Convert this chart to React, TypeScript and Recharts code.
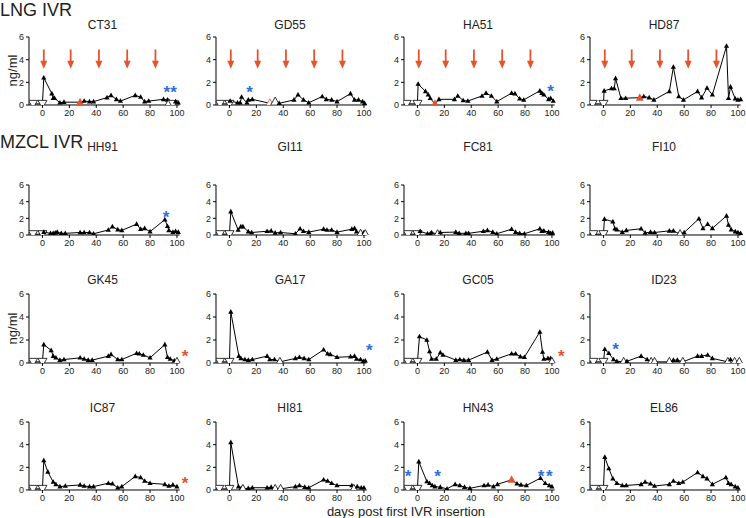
import React from 'react';
import { ComposedChart, Line, XAxis, YAxis, Scatter, ReferenceLine } from 'recharts';

// [day, ng/ml, marker] ; f = filled, o = open (below LOD), d = open pre-insertion, r = red filled, ro = red open
type Pt = [number, number, string];
type Star = [number, number, string];

const X_TICKS = [0, 20, 40, 60, 80, 100];
const Y_TICKS = [0, 2, 4, 6];
const RING_DAYS = [1, 21, 42, 63, 84];

const CT31: Pt[] = [[-7,0.1,'d'],[0,0.1,'d'],[1,2.4,'f'],[7,1.0,'f'],[8,0.6,'f'],[9,0.6,'f'],[13,0.2,'f'],[16,0.25,'f'],[28,0.25,'r'],[31,0.35,'f'],[35,0.3,'f'],[38,0.3,'f'],[48,0.65,'f'],[51,0.85,'f'],[55,0.5,'f'],[58,0.35,'f'],[69,0.85,'f'],[73,0.7,'f'],[76,0.3,'f'],[79,0.35,'f'],[90,0.5,'f'],[93,0.45,'f'],[94,0.15,'o'],[97,0.1,'d'],[99,0.3,'f'],[101,0.2,'f']];
const GD55: Pt[] = [[-7,0.1,'d'],[0,0.1,'d'],[0.5,0.35,'f'],[6,0.2,'f'],[8,0.2,'f'],[9,0.7,'f'],[13,0.2,'f'],[14,0.45,'f'],[17,0.5,'f'],[30,0.15,'ro'],[34,0.3,'o'],[37,0.15,'f'],[48,0.45,'f'],[51,0.9,'f'],[55,0.45,'f'],[59,0.2,'f'],[69,0.75,'f'],[72,0.5,'f'],[76,0.45,'f'],[80,0.3,'f'],[90,1.0,'f'],[93,0.45,'f'],[96,0.45,'f'],[99,0.3,'f'],[100.5,0.15,'f']];
const HA51: Pt[] = [[-8,0.1,'d'],[0,0.1,'d'],[0.5,1.85,'f'],[6,1.2,'f'],[8,0.9,'f'],[9.5,0.6,'f'],[13,0.1,'r'],[16,0.5,'f'],[27.5,0.5,'f'],[30,0.8,'f'],[34,0.4,'f'],[37.5,0.35,'f'],[48,0.8,'f'],[51,1.05,'f'],[55,0.8,'f'],[59,0.3,'f'],[70,1.05,'f'],[72.5,1.0,'f'],[76,0.55,'f'],[79,0.45,'f'],[91,1.25,'f'],[92.5,1.05,'f'],[94,0.9,'f'],[97.5,0.5,'f'],[99,0.6,'f'],[101,0.35,'f']];
const HD87: Pt[] = [[-8,0.1,'d'],[0,0.1,'d'],[0.5,1.25,'f'],[6,1.45,'f'],[8,1.45,'f'],[9,2.35,'f'],[13,0.6,'f'],[16.5,0.6,'f'],[27,0.65,'r'],[30,0.75,'f'],[34,0.65,'f'],[37.5,0.45,'f'],[49,1.2,'f'],[52,3.35,'f'],[56,0.75,'f'],[59.5,0.45,'f'],[70,1.2,'f'],[73,0.65,'f'],[77,1.5,'f'],[81,0.9,'f'],[91.5,5.2,'f'],[93,0.6,'f'],[94.5,1.6,'f'],[98,0.55,'f'],[100,0.45,'f'],[102,0.5,'f']];

const HH91: Pt[] = [[-7,0.1,'d'],[0,0.1,'d'],[1,0.35,'f'],[6,0.2,'f'],[8,0.2,'f'],[9.5,0.25,'f'],[11,0.35,'f'],[14,0.2,'f'],[17,0.2,'f'],[28,0.3,'f'],[31,0.3,'f'],[35,0.3,'f'],[38,0.15,'f'],[49,0.6,'f'],[52,1.0,'f'],[56,0.65,'f'],[59,0.55,'f'],[70,1.3,'f'],[73,0.7,'f'],[76,0.8,'f'],[80,0.4,'f'],[91,1.85,'f'],[93,1.05,'f'],[94,0.55,'f'],[97,0.35,'f'],[99,0.45,'f'],[101,0.35,'f']];
const GI11: Pt[] = [[-7,0.1,'d'],[0,0.1,'d'],[1,2.8,'f'],[6.5,0.6,'f'],[8.5,1.0,'f'],[10,1.0,'f'],[14,0.4,'f'],[16.5,0.3,'f'],[28,0.45,'f'],[31,0.5,'f'],[34,0.25,'f'],[38,0.3,'f'],[49,0.15,'f'],[52.5,0.75,'f'],[55,0.45,'f'],[59,0.35,'f'],[70,0.7,'f'],[72.5,0.6,'f'],[76,0.6,'f'],[80,0.35,'f'],[91,0.7,'f'],[93,0.8,'f'],[94.5,0.4,'f'],[97.5,0.15,'o'],[100,0.3,'f'],[101,0.1,'o']];
const FC81: Pt[] = [[-7,0.1,'d'],[0,0.1,'d'],[2,0.45,'f'],[7.5,0.15,'f'],[9.5,0.15,'f'],[10.5,0.3,'f'],[15,0.1,'o'],[17,0.3,'f'],[28.5,0.35,'f'],[31,0.2,'f'],[36,0.2,'f'],[38,0.2,'f'],[49,0.45,'f'],[52,0.55,'f'],[56,0.35,'f'],[59,0.15,'f'],[70,0.7,'f'],[73,0.35,'f'],[76,0.2,'f'],[79.5,0.15,'f'],[91,0.75,'f'],[92.5,0.45,'f'],[94,0.5,'f'],[97.5,0.35,'f'],[99,0.2,'f'],[100.5,0.25,'f']];
const FI10: Pt[] = [[-7.5,0.1,'d'],[0,0.1,'d'],[0.75,1.9,'f'],[7,1.6,'f'],[8.5,0.75,'f'],[10,0.65,'f'],[14,0.35,'f'],[17,0.55,'f'],[28,0.75,'f'],[31,0.25,'f'],[35,0.35,'f'],[38,0.3,'f'],[49,0.5,'f'],[52,0.5,'f'],[57,0.1,'o'],[60,0.3,'f'],[71,1.95,'f'],[74,0.8,'f'],[77.5,1.3,'f'],[81,0.8,'f'],[91.5,2.3,'f'],[93,1.2,'f'],[95,0.65,'f'],[98,0.4,'f'],[100,0.3,'f'],[102,0.2,'f']];

const GK45: Pt[] = [[-7,0.1,'d'],[0,0.1,'d'],[1,1.6,'f'],[6.5,1.1,'f'],[8,0.6,'f'],[10,0.45,'f'],[13,0.25,'f'],[16,0.3,'f'],[28,0.45,'f'],[31,0.35,'f'],[34,0.25,'f'],[37,0.25,'f'],[49,0.6,'f'],[51,0.75,'f'],[56,0.3,'f'],[59,0.3,'f'],[70,0.85,'f'],[72,0.8,'f'],[75,0.7,'f'],[80,0.45,'f'],[91,1.6,'f'],[93,0.5,'f'],[95,0.35,'f'],[98,0.2,'f'],[100,0.1,'o']];
const GA17: Pt[] = [[-7,0.1,'d'],[0,0.1,'d'],[1,4.45,'f'],[7,0.6,'f'],[8.5,0.4,'f'],[11.5,0.3,'f'],[14,0.25,'f'],[17,0.3,'f'],[28,0.6,'f'],[30,0.3,'f'],[33.5,0.3,'f'],[37.5,0.1,'o'],[49,0.4,'f'],[52,0.5,'f'],[55.5,0.4,'f'],[59,0.3,'f'],[70,1.15,'f'],[73,0.8,'f'],[75,0.75,'f'],[80,0.5,'f'],[90,0.55,'f'],[93,0.6,'f'],[94.5,0.35,'f'],[97.5,0.3,'f'],[99.5,0.15,'f'],[101,0.2,'f']];
const GC05: Pt[] = [[-7,0.1,'d'],[0,0.1,'d'],[1.5,2.3,'f'],[7,2.0,'f'],[9,1.0,'f'],[10.5,0.35,'f'],[14,0.35,'f'],[17,0.9,'f'],[19,0.7,'f'],[28.5,0.25,'f'],[31.5,0.3,'f'],[34.5,0.25,'f'],[38,0.25,'f'],[52,0.95,'f'],[55.5,0.25,'f'],[59,0.35,'f'],[70,0.8,'f'],[73,0.8,'f'],[76.5,0.55,'f'],[79.5,0.5,'f'],[91,2.7,'f'],[93,0.95,'f'],[94,0.35,'f'],[97,0.4,'f'],[99,0.4,'f'],[100,0.1,'o']];
const ID23: Pt[] = [[-7.5,0.1,'d'],[0,0.1,'d'],[1,1.2,'f'],[4,0.85,'f'],[7.5,0.3,'f'],[10,0.15,'f'],[15,0.1,'o'],[17.5,0.15,'f'],[28,0.6,'f'],[32.5,0.3,'f'],[35.5,0.1,'o'],[38,0.1,'o'],[49,0.1,'o'],[52,0.25,'f'],[55,0.25,'f'],[59,0.1,'o'],[70,0.6,'f'],[73,0.6,'f'],[77.5,0.7,'f'],[81,0.4,'f'],[92.5,0.1,'o'],[94.5,0.3,'f'],[97.5,0.1,'o'],[101,0.1,'o']];

const IC87: Pt[] = [[-7,0.1,'d'],[0,0.1,'d'],[1,2.6,'f'],[4,1.6,'f'],[8,0.7,'f'],[10,0.5,'f'],[13,0.3,'f'],[17,0.35,'f'],[28,0.45,'f'],[31,0.35,'f'],[35,0.3,'f'],[38,0.3,'f'],[49,0.6,'f'],[52,0.55,'f'],[56,0.2,'f'],[59,0.3,'f'],[69,1.2,'f'],[73,1.1,'f'],[76,0.8,'f'],[80,0.6,'f'],[91,0.5,'f'],[94,0.35,'f'],[97,0.45,'f'],[100,0.3,'f']];
const HI81: Pt[] = [[-7.5,0.1,'d'],[0,0.1,'d'],[1,4.2,'f'],[6.7,0.3,'f'],[8.7,0.15,'f'],[10,0.1,'o'],[14,0.15,'f'],[17,0.2,'f'],[28,0.2,'f'],[31,0.25,'f'],[34,0.1,'o'],[38,0.1,'o'],[49,0.3,'f'],[52,0.4,'f'],[56,0.25,'f'],[59,0.2,'f'],[70,0.9,'f'],[73,0.8,'f'],[76,0.6,'f'],[80,0.4,'f'],[91,0.4,'f'],[92.5,0.1,'o'],[95,0.3,'f'],[98,0.2,'f'],[100,0.2,'f']];
const HN43: Pt[] = [[-7,0.1,'d'],[0,0.1,'d'],[1,2.5,'f'],[7,0.75,'f'],[9,0.6,'f'],[11,0.4,'f'],[13,0.3,'f'],[17,0.25,'f'],[22,0.1,'f'],[28,0.5,'f'],[31.5,0.4,'f'],[35,0.25,'f'],[39,0.15,'f'],[49.5,0.4,'f'],[52.5,0.45,'f'],[56.5,0.3,'f'],[59.5,0.5,'f'],[70,0.9,'r'],[74,0.55,'f'],[77,0.45,'f'],[81,0.4,'f'],[91.5,1.05,'f'],[95,0.6,'f'],[98,0.4,'f'],[100,0.3,'f']];
const EL86: Pt[] = [[-7,0.1,'d'],[0,0.1,'d'],[1,2.9,'f'],[4,1.9,'f'],[7,1.0,'f'],[10,0.6,'f'],[14,0.4,'f'],[17,0.4,'f'],[28,0.5,'f'],[31,0.7,'f'],[35,0.55,'f'],[38,0.35,'f'],[49,0.5,'f'],[52,0.8,'f'],[56,0.6,'f'],[59,0.7,'f'],[70,1.55,'f'],[74,1.2,'f'],[77,1.0,'f'],[81,0.5,'f'],[91,1.1,'f'],[93,0.6,'f'],[95,0.5,'f'],[98,0.3,'f'],[100,0.2,'f']];

// asterisks: b = blue, r = red
const CT31_STARS: Star[] = [[92.5,1.45,'b'],[97.5,1.45,'b']];
const GD55_STARS: Star[] = [[15,1.45,'b']];
const HA51_STARS: Star[] = [[99,1.5,'b']];
const HH91_STARS: Star[] = [[92,2.6,'b']];
const GK45_STARS: Star[] = [[106,0.9,'r']];
const GA17_STARS: Star[] = [[104,1.45,'b']];
const GC05_STARS: Star[] = [[107,0.9,'r']];
const ID23_STARS: Star[] = [[9,1.5,'b']];
const IC87_STARS: Star[] = [[106,0.9,'r']];
const HN43_STARS: Star[] = [[-7,1.5,'b'],[15,1.5,'b'],[92,1.5,'b'],[98,1.5,'b']];

const PANELS = [
  { name: 'CT31', pts: CT31, stars: CT31_STARS, rings: true, row: 0, col: 0 },
  { name: 'GD55', pts: GD55, stars: GD55_STARS, rings: true, row: 0, col: 1 },
  { name: 'HA51', pts: HA51, stars: HA51_STARS, rings: true, row: 0, col: 2 },
  { name: 'HD87', pts: HD87, stars: [], rings: true, row: 0, col: 3 },
  { name: 'HH91', pts: HH91, stars: HH91_STARS, rings: false, row: 1, col: 0 },
  { name: 'GI11', pts: GI11, stars: [], rings: false, row: 1, col: 1 },
  { name: 'FC81', pts: FC81, stars: [], rings: false, row: 1, col: 2 },
  { name: 'FI10', pts: FI10, stars: [], rings: false, row: 1, col: 3 },
  { name: 'GK45', pts: GK45, stars: GK45_STARS, rings: false, row: 2, col: 0 },
  { name: 'GA17', pts: GA17, stars: GA17_STARS, rings: false, row: 2, col: 1 },
  { name: 'GC05', pts: GC05, stars: GC05_STARS, rings: false, row: 2, col: 2 },
  { name: 'ID23', pts: ID23, stars: ID23_STARS, rings: false, row: 2, col: 3 },
  { name: 'IC87', pts: IC87, stars: IC87_STARS, rings: false, row: 3, col: 0 },
  { name: 'HI81', pts: HI81, stars: [], rings: false, row: 3, col: 1 },
  { name: 'HN43', pts: HN43, stars: HN43_STARS, rings: false, row: 3, col: 2 },
  { name: 'EL86', pts: EL86, stars: [], rings: false, row: 3, col: 3 },
];

// layout (px): x of day -10 per column, plot top / zero line / title per row
const COL_X = [28.5, 216, 404, 590];
const PX_PER_DAY = 1.345;
const ROWS = [
  { top: 37, zero: 105, title: 25 },
  { top: 185, zero: 235, title: 147 },
  { top: 294, zero: 363, title: 280 },
  { top: 422, zero: 490, title: 408 },
];
const YW = 24;
const XH = 14;
const MT = 5;

const RED = '#e8532b';
const BLUE = '#2f6fe0';
const FONT = '"Liberation Sans", Arial, sans-serif';

const renderDot = (props: any) => {
  const { cx, cy, payload, index } = props;
  if (cx == null || cy == null) return <g key={index} />;
  const k = payload.k;
  if (k === 'd') {
    return <path key={index} d={`M${cx - 4.5},${cy - 3.5}L${cx + 4.5},${cy - 3.5}L${cx},${cy + 4.5}Z`} fill="#fff" stroke="#000" strokeWidth={0.8} />;
  }
  if (k === 'o' || k === 'ro') {
    return <path key={index} d={`M${cx},${cy - 4.5}L${cx + 4.5},${cy + 3.5}L${cx - 4.5},${cy + 3.5}Z`} fill="#fff" stroke={k === 'ro' ? RED : '#000'} strokeWidth={0.8} />;
  }
  if (k === 'r') {
    return <path key={index} d={`M${cx},${cy - 4.5}L${cx + 4},${cy + 3}L${cx - 4},${cy + 3}Z`} fill={RED} />;
  }
  return <path key={index} d={`M${cx},${cy - 2.8}L${cx + 2.6},${cy + 1.8}L${cx - 2.6},${cy + 1.8}Z`} fill="#000" />;
};

const StarShape = (props: any) => {
  const { cx, cy, payload } = props;
  return (
    <text x={cx} y={cy + 9.5} textAnchor="middle" fontSize={17} fontWeight="bold" fontFamily={FONT} fill={payload.c === 'r' ? RED : BLUE}>
      *
    </text>
  );
};

const ArrowHead = (props: any) => {
  const { cx, cy } = props;
  return <path d={`M${cx},${cy}L${cx - 3.5},${cy - 8}L${cx + 3.5},${cy - 8}Z`} fill={RED} />;
};

function Panel({ p }: { p: (typeof PANELS)[number] }) {
  const row = ROWS[p.row];
  const plotH = row.zero - row.top;
  const width = YW + 120 * PX_PER_DAY + 2;
  const height = MT + plotH + XH;
  const data = p.pts.map(([x, y, k]) => ({ x, y, k }));
  const stars = p.stars.map(([x, y, c]) => ({ x, y, c }));
  const heads = RING_DAYS.map((d) => ({ x: d, y: 3.2 }));
  return (
    <div style={{ position: 'absolute', left: COL_X[p.col] - YW, top: row.top - MT }}>
      <ComposedChart width={width} height={height} data={data} margin={{ top: MT, right: 2, bottom: 0, left: 0 }}>
        <XAxis
          type="number"
          dataKey="x"
          domain={[-10, 110]}
          ticks={X_TICKS}
          allowDataOverflow
          axisLine={false}
          tickLine={{ stroke: '#000' }}
          tickSize={3}
          height={XH}
          tick={{ fontSize: 9, fill: '#222', fontFamily: FONT }}
          interval={0}
        />
        <YAxis
          type="number"
          domain={[0, 6]}
          ticks={Y_TICKS}
          allowDataOverflow
          width={YW}
          axisLine={{ stroke: '#000' }}
          tickLine={{ stroke: '#000' }}
          tickSize={3}
          tick={{ fontSize: 9, fill: '#222', fontFamily: FONT }}
          interval={0}
        />
        <ReferenceLine segment={[{ x: -10, y: 0 }, { x: 102, y: 0 }]} stroke="#000" ifOverflow="visible" />
        {p.rings &&
          RING_DAYS.map((d) => (
            <ReferenceLine key={d} segment={[{ x: d, y: 4.9 }, { x: d, y: 3.8 }]} stroke={RED} strokeWidth={1.8} ifOverflow="visible" />
          ))}
        {p.rings && <Scatter data={heads} dataKey="y" shape={ArrowHead} isAnimationActive={false} />}
        <Line
          type="linear"
          dataKey="y"
          stroke="#000"
          strokeWidth={1}
          dot={renderDot}
          activeDot={false}
          isAnimationActive={false}
        />
        {stars.length > 0 && <Scatter data={stars} dataKey="y" shape={StarShape} isAnimationActive={false} />}
      </ComposedChart>
    </div>
  );
}

export default function App() {
  return (
    <div style={{ position: 'relative', width: 746, height: 518, background: '#fff', fontFamily: FONT, color: '#222', overflow: 'hidden' }}>
      <style>{'body{margin:0}'}</style>
      <div style={{ position: 'absolute', left: 0, top: 0, fontSize: 18, lineHeight: '20px' }}>LNG IVR</div>
      <div style={{ position: 'absolute', left: 0, top: 132, fontSize: 18, lineHeight: '20px' }}>MZCL IVR</div>
      {PANELS.map((p) => (
        <div key={p.name}>
          <div
            style={{
              position: 'absolute',
              left: COL_X[p.col] + 74 - 40,
              width: 80,
              top: ROWS[p.row].title - 7,
              textAlign: 'center',
              fontSize: 12,
            }}
          >
            {p.name}
          </div>
          <Panel p={p} />
        </div>
      ))}
      {[0, 2].map((r) => (
        <div
          key={r}
          style={{
            position: 'absolute',
            left: 12 - 20,
            width: 40,
            top: (ROWS[r].top + ROWS[r].zero) / 2 - 8,
            textAlign: 'center',
            fontSize: 13,
            transform: 'rotate(-90deg)',
          }}
        >
          ng/ml
        </div>
      ))}
      <div style={{ position: 'absolute', left: 306, width: 200, top: 504, textAlign: 'center', fontSize: 13 }}>
        days post first IVR insertion
      </div>
    </div>
  );
}
